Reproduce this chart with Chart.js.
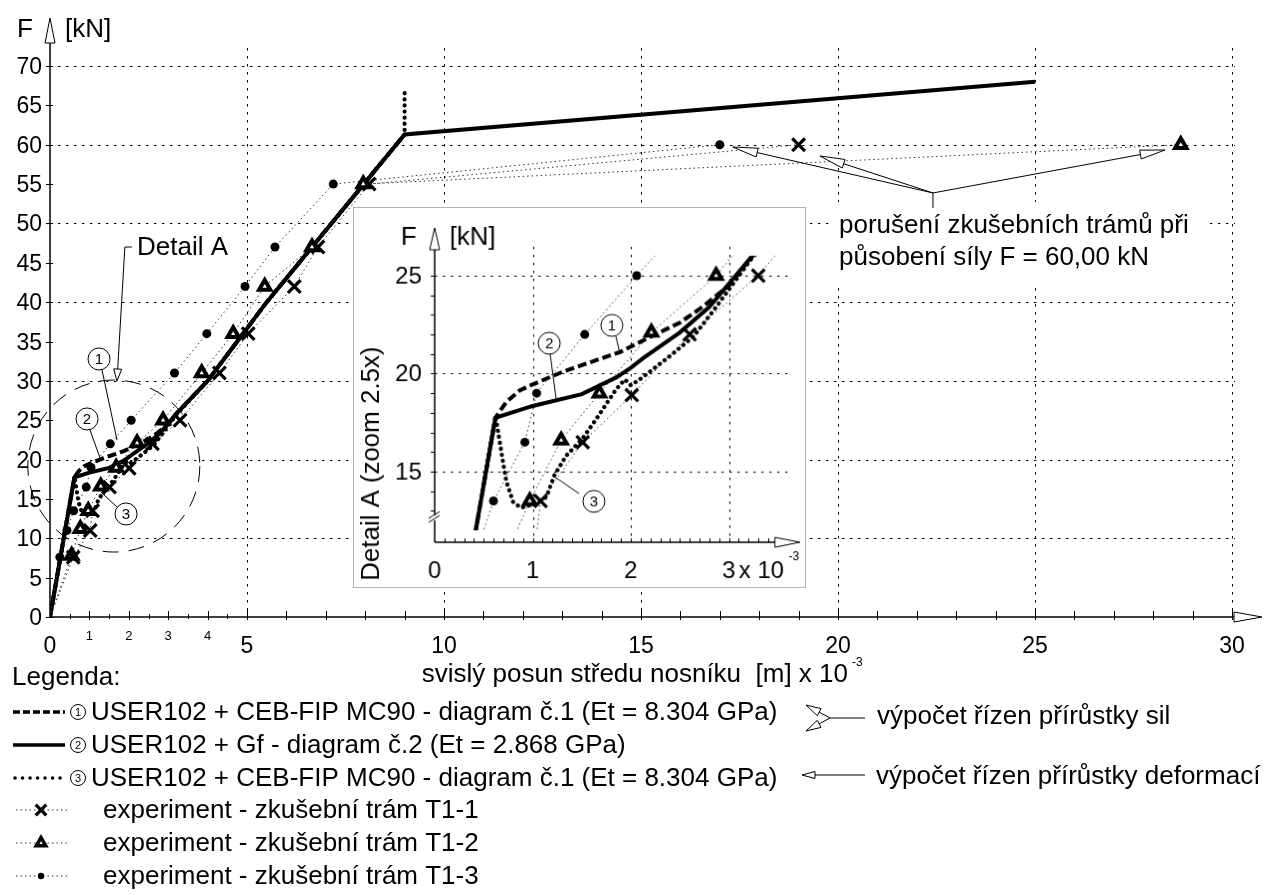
<!DOCTYPE html>
<html lang="cs">
<head>
<meta charset="utf-8">
<title>F - svislý posun</title>
<script src="https://cdn.jsdelivr.net/npm/chart.js@4.4.1/dist/chart.umd.min.js"></script>
<style>
  body { margin: 0; background: #fff; }
  #wrap { position: relative; width: 1265px; height: 895px; overflow: hidden; }
  #main { position: absolute; left: 0; top: 0; }
  #detail { position: absolute; left: 353px; top: 207px; background: #fff; border: 1px solid #b4b4b4; }
</style>
</head>
<body>
<div id="wrap">
  <canvas id="main" width="1265" height="895"></canvas>
  <canvas id="detail" width="453" height="381"></canvas>
</div>
<script>
// x = svislý posun středu nosníku [m] x 10^-3, y = F [kN]

// model 1 - dashed (CEB-FIP, řízeno silami)
var m1X = [0, 0.62, 0.73, 0.87, 1.0, 1.31, 1.6, 1.89, 2.21, 2.5, 2.73, 3.0, 3.22, 4.0, 5.5, 9.0];
var m1Y = [0, 17.75, 18.55, 19.15, 19.45, 20.1, 20.6, 21.1, 21.9, 22.6, 23.4, 24.5, 25.9, 30.0, 40.0, 61.3];
// model 2 - solid (Gf)
var m2X = [0, 0.62, 1.0, 1.5, 1.85, 2.0, 2.13, 2.5, 2.8, 3.22, 4.0, 5.5, 9.0, 25.0];
var m2Y = [0, 17.75, 18.35, 18.95, 19.8, 20.3, 20.8, 22.1, 23.4, 25.9, 30.0, 40.0, 61.3, 68.0];
// model 3 - dotted (CEB-FIP, řízeno deformacemi)
var m3X = [0, 0.62, 0.68, 0.73, 0.80, 0.88, 0.99, 1.14, 1.22, 1.34, 1.51, 1.65, 1.85, 1.94, 2.0, 2.09, 2.4, 2.64, 2.87, 3.22, 4.0, 5.5, 9.0, 9.0];
var m3Y = [0, 17.85, 16.0, 14.5, 13.45, 13.15, 13.3, 13.7, 14.8, 15.8, 16.7, 17.7, 19.2, 19.7, 19.4, 19.7, 20.9, 21.9, 23.4, 25.8, 30.0, 40.0, 61.3, 67.2];

// experiments
var t1X = [0, 0.59, 1.02, 1.08, 1.51, 2.01, 2.6, 3.3, 4.3, 5.03, 6.2, 6.8, 8.1, 19.0];
var t1Y = [0, 7.6, 11.0, 13.5, 16.5, 18.9, 22.0, 25.0, 31.0, 36.0, 42.0, 47.0, 55.0, 60.0];
var t2X = [0, 0.55, 0.77, 0.97, 1.29, 1.68, 2.21, 2.87, 3.85, 4.65, 5.45, 6.65, 7.95, 28.7];
var t2Y = [0, 7.8, 11.2, 13.5, 16.6, 19.0, 22.1, 25.0, 31.0, 36.0, 42.0, 47.0, 55.0, 60.0];
var t3X = [0, 0.25, 0.43, 0.6, 0.92, 1.04, 1.53, 2.06, 3.16, 3.98, 4.95, 5.71, 7.19, 17.0];
var t3Y = [0, 7.6, 11.0, 13.5, 16.5, 19.0, 22.0, 25.0, 31.0, 36.0, 42.0, 47.0, 55.0, 60.0];

// axes
var xTicks = [0, 5, 10, 15, 20, 25, 30];
var xSmallTicks = [1, 2, 3, 4];
var yTicks = [0, 5, 10, 15, 20, 25, 30, 35, 40, 45, 50, 55, 60, 65, 70];
var yGrid = [10, 20, 30, 40, 50, 60, 70];
var dXTicks = [0, 1, 2, 3];
var dYTicks = [15, 20, 25];

var legendTexts = [
  'USER102 + CEB-FIP MC90 - diagram č.1 (Et = 8.304 GPa)',
  'USER102 + Gf - diagram č.2 (Et = 2.868 GPa)',
  'USER102 + CEB-FIP MC90 - diagram č.1 (Et = 8.304 GPa)',
  'experiment - zkušební trám T1-1',
  'experiment - zkušební trám T1-2',
  'experiment - zkušební trám T1-3'
];

var FONT = '"Liberation Sans", Arial, sans-serif';
var TS = 26;

function pts(xs, ys) {
  return xs.map(function (x, i) { return { x: x, y: ys[i] }; });
}

function expSet(xs, ys, style, r, bw, bg) {
  return {
    data: pts(xs, ys), showLine: true,
    borderColor: '#333', borderWidth: 1, borderDash: [1.5, 3],
    pointStyle: style,
    pointRadius: function (c) { return c.dataIndex === 0 ? 0 : r; },
    pointBorderWidth: bw, pointBorderColor: '#000', pointBackgroundColor: bg
  };
}

function makeSets() {
  return [
    expSet(t1X, t1Y, 'crossRot', 9, 3.2, '#000'),
    expSet(t2X, t2Y, 'triangle', 6.5, 4, '#fff'),
    expSet(t3X, t3Y, 'circle', 4.5, 0, '#000'),
    { data: pts(m3X, m3Y), showLine: true, borderColor: '#000', borderWidth: 4.2, borderDash: [0.1, 6],
      borderCapStyle: 'round', borderJoinStyle: 'round', pointRadius: 0 },
    { data: pts(m1X, m1Y), showLine: true, borderColor: '#000', borderWidth: 4, borderDash: [9, 4], pointRadius: 0 },
    { data: pts(m2X, m2Y), showLine: true, borderColor: '#000', borderWidth: 4, pointRadius: 0 }
  ];
}

// drawing helpers
function txt(ctx, s, x, y, size, align, base) {
  ctx.font = size + 'px ' + FONT;
  ctx.textAlign = align || 'left';
  ctx.textBaseline = base || 'alphabetic';
  ctx.fillStyle = '#000';
  ctx.fillText(s, x, y);
}
function seg(ctx, x1, y1, x2, y2) {
  ctx.beginPath(); ctx.moveTo(x1, y1); ctx.lineTo(x2, y2); ctx.stroke();
}
function arrowTo(ctx, x1, y1, tx, ty, len, half) {
  var a = Math.atan2(ty - y1, tx - x1);
  var bx = tx - len * Math.cos(a), by = ty - len * Math.sin(a);
  var nx = -Math.sin(a) * half, ny = Math.cos(a) * half;
  ctx.setLineDash([]);
  ctx.lineWidth = 1; ctx.strokeStyle = '#000';
  seg(ctx, x1, y1, bx, by);
  ctx.beginPath();
  ctx.moveTo(tx, ty); ctx.lineTo(bx + nx, by + ny); ctx.lineTo(bx - nx, by - ny); ctx.closePath();
  ctx.fillStyle = '#fff'; ctx.fill(); ctx.stroke();
}
function circled(ctx, n, cx, cy, r, size) {
  ctx.setLineDash([]);
  ctx.beginPath(); ctx.arc(cx, cy, r, 0, Math.PI * 2);
  ctx.fillStyle = '#fff'; ctx.fill();
  ctx.lineWidth = 1; ctx.strokeStyle = '#000'; ctx.stroke();
  txt(ctx, String(n), cx, cy + 1, size, 'center', 'middle');
}
function marker(ctx, style, r, bw, bg, x, y) {
  ctx.save();
  ctx.setLineDash([]);
  ctx.lineWidth = bw; ctx.strokeStyle = '#000'; ctx.fillStyle = bg;
  Chart.helpers.drawPoint(ctx, { pointStyle: style, radius: r, borderWidth: bw, rotation: 0 }, x, y);
  ctx.restore();
}

var mainDecor = {
  id: 'mainDecor',
  beforeDatasetsDraw: function (chart) {
    var ctx = chart.ctx, a = chart.chartArea, sx = chart.scales.x, sy = chart.scales.y;
    ctx.save();
    ctx.strokeStyle = '#000'; ctx.lineWidth = 1; ctx.setLineDash([2.5, 5.5]);
    xTicks.slice(1).forEach(function (v) {
      var p = Math.round(sx.getPixelForValue(v)) + 0.5;
      seg(ctx, p, a.top - 18, p, a.bottom);
    });
    yGrid.forEach(function (v) {
      var p = Math.round(sy.getPixelForValue(v)) + 0.5;
      seg(ctx, a.left, p, a.right + 3, p);
    });
    // white box behind the failure note
    ctx.fillStyle = '#fff';
    ctx.fillRect(830, 202, 375, 83);
    ctx.restore();
  },
  afterDatasetsDraw: function (chart) {
    var ctx = chart.ctx, a = chart.chartArea, sx = chart.scales.x, sy = chart.scales.y;
    function P(x, y) { return [sx.getPixelForValue(x), sy.getPixelForValue(y)]; }
    ctx.save();
    ctx.strokeStyle = '#000'; ctx.setLineDash([]);

    // axes
    ctx.lineWidth = 1.5;
    seg(ctx, a.left, a.bottom, a.left, 43);
    seg(ctx, a.left, a.bottom, a.right + 2, a.bottom);
    arrowTo(ctx, a.left, 43, a.left, 18, 25, 5);
    arrowTo(ctx, a.right + 2, a.bottom, a.right + 30, a.bottom, 28, 5);

    // ticks
    ctx.lineWidth = 1;
    yTicks.forEach(function (v) {
      var p = Math.round(sy.getPixelForValue(v)) + 0.5;
      seg(ctx, a.left - 4, p, a.left + 3, p);
      txt(ctx, String(v), a.left - 8, p + 1, 23, 'right', 'middle');
    });
    for (var i = 1; i <= 30; i++) {
      var px = Math.round(sx.getPixelForValue(i)) + 0.5;
      seg(ctx, px, a.bottom - (i % 5 === 0 ? 8 : 6), px, a.bottom + 3);
    }
    for (var h = 0.5; h < 5; h += 1) {
      var hx = Math.round(sx.getPixelForValue(h)) + 0.5;
      seg(ctx, hx, a.bottom - 3, hx, a.bottom + 2);
    }
    xTicks.forEach(function (v) {
      txt(ctx, String(v), sx.getPixelForValue(v), a.bottom + 36, 23, 'center');
    });
    xSmallTicks.forEach(function (v) {
      txt(ctx, String(v), sx.getPixelForValue(v), a.bottom + 23, 13, 'center');
    });

    // axis titles
    txt(ctx, 'F', 17, 37, TS);
    txt(ctx, '[kN]', 65, 37, TS);
    txt(ctx, 'svislý posun středu nosníku  [m] x 10', 848, 682, TS, 'right');
    txt(ctx, '-3', 852, 666, 12);

    // Detail A circle
    var c = P(1.62, 19.18);
    ctx.lineWidth = 1; ctx.setLineDash([16, 10]);
    ctx.beginPath(); ctx.arc(c[0], c[1], 86, 0, Math.PI * 2); ctx.stroke();
    ctx.setLineDash([]);
    txt(ctx, 'Detail A', 137, 255, TS);
    var d0 = P(2.08, 47.0), d1 = P(1.9, 47.0), d2 = P(1.7, 29.98);
    seg(ctx, d0[0], d0[1], d1[0], d1[1]);
    arrowTo(ctx, d1[0], d1[1], d2[0], d2[1], 12, 4);

    // circled curve numbers
    var l1 = P(1.32, 31.38), l1e = P(1.70, 22.49);
    seg(ctx, l1[0], l1[1], l1e[0], l1e[1]);
    var l2 = P(1.015, 23.76), l2e = P(1.27, 20.2);
    seg(ctx, l2[0], l2[1], l2e[0], l2e[1]);
    var l3 = P(1.70, 13.98), l3e = P(1.29, 15.88);
    seg(ctx, l3[0], l3[1], l3e[0], l3e[1]);
    var c1 = P(1.244, 32.78), c2 = P(0.94, 25.16), c3 = P(1.93, 13.09);
    circled(ctx, 1, c1[0], c1[1], 11, 15);
    circled(ctx, 2, c2[0], c2[1], 11, 15);
    circled(ctx, 3, c3[0], c3[1], 11, 15);

    // failure note
    var b0 = P(22.41, 51.96), b1 = P(22.41, 53.87);
    seg(ctx, b0[0], b0[1], b1[0], b1[1]);
    [[17.33, 59.71], [19.54, 58.57], [28.3, 59.33]].forEach(function (t) {
      var q = P(t[0], t[1]);
      arrowTo(ctx, b1[0], b1[1], q[0], q[1], 25, 4.5);
    });
    txt(ctx, 'porušení zkušebních trámů při', 839, 233, TS);
    txt(ctx, 'působení síly F = 60,00 kN', 839, 265, TS);
    ctx.restore();
  },
  afterDraw: function (chart) {
    var ctx = chart.ctx;
    ctx.save();
    txt(ctx, 'Legenda:', 12, 685, TS);
    var base = [720, 753, 786, 818, 851, 884];
    // model lines
    ctx.strokeStyle = '#000';
    ctx.lineWidth = 3.5; ctx.setLineDash([7, 3]); ctx.lineCap = 'butt';
    seg(ctx, 13, base[0] - 8, 65, base[0] - 8);
    ctx.setLineDash([]);
    seg(ctx, 13, base[1] - 8, 65, base[1] - 8);
    ctx.lineCap = 'round'; ctx.setLineDash([0.1, 7.4]);
    seg(ctx, 15, base[2] - 8, 65, base[2] - 8);
    ctx.lineCap = 'butt';
    for (var i = 0; i < 3; i++) {
      circled(ctx, i + 1, 78, base[i] - 8, 7.5, 11);
      txt(ctx, legendTexts[i], 91, base[i], TS);
    }
    // experiments
    var mk = [['crossRot', 7.5, 3.2, '#000'], ['triangle', 5.5, 3.5, '#fff'], ['circle', 3.2, 0, '#000']];
    for (var j = 0; j < 3; j++) {
      var yy = base[3 + j] - 8;
      ctx.lineWidth = 1; ctx.strokeStyle = '#333'; ctx.setLineDash([1.5, 3]);
      seg(ctx, 16, yy, 70, yy);
      marker(ctx, mk[j][0], mk[j][1], mk[j][2], mk[j][3], 41, yy);
      txt(ctx, legendTexts[3 + j], 103, base[3 + j], TS);
    }
    // calculation control notes
    ctx.setLineDash([]); ctx.strokeStyle = '#000'; ctx.lineWidth = 1;
    seg(ctx, 865, 718, 830, 718);
    arrowTo(ctx, 830, 718, 806, 705, 15, 4);
    arrowTo(ctx, 830, 718, 806, 731, 15, 4);
    txt(ctx, 'výpočet řízen přírůstky sil', 877, 724, TS);
    arrowTo(ctx, 865, 775, 802, 775, 13, 3.5);
    txt(ctx, 'výpočet řízen přírůstky deformací', 876, 784, TS);
    ctx.restore();
  }
};

var detailDecor = {
  id: 'detailDecor',
  beforeDatasetsDraw: function (chart) {
    var ctx = chart.ctx, a = chart.chartArea, sx = chart.scales.x, sy = chart.scales.y;
    var axisY = a.bottom + 12;
    ctx.save();
    ctx.strokeStyle = '#000'; ctx.lineWidth = 1; ctx.setLineDash([2.5, 5.5]);
    dXTicks.slice(1).forEach(function (v) {
      var p = Math.round(sx.getPixelForValue(v)) + 0.5;
      seg(ctx, p, 39, p, axisY);
    });
    dYTicks.forEach(function (v) {
      var p = Math.round(sy.getPixelForValue(v)) + 0.5;
      seg(ctx, a.left, p, a.right + 12, p);
    });
    ctx.restore();
  },
  afterDatasetsDraw: function (chart) {
    var ctx = chart.ctx, a = chart.chartArea, sx = chart.scales.x, sy = chart.scales.y;
    function P(x, y) { return [sx.getPixelForValue(x), sy.getPixelForValue(y)]; }
    var axisY = a.bottom + 12;
    ctx.save();
    ctx.strokeStyle = '#000'; ctx.setLineDash([]);
    ctx.lineWidth = 1.5;
    seg(ctx, a.left, axisY, a.left, 42);
    seg(ctx, a.left, axisY, a.right - 3, axisY);
    arrowTo(ctx, a.left, 42, a.left, 20, 22, 5);
    arrowTo(ctx, a.right - 3, axisY, a.right + 22, axisY, 25, 5);
    // axis break
    ctx.fillStyle = '#fff';
    ctx.fillRect(a.left - 3, axisY - 27, 6, 5);
    ctx.lineWidth = 1;
    seg(ctx, a.left - 6, axisY - 20, a.left + 5, axisY - 27);
    seg(ctx, a.left - 6, axisY - 24, a.left + 5, axisY - 31);
    // ticks
    for (var v = 13; v <= 25; v++) {
      var py = Math.round(sy.getPixelForValue(v)) + 0.5;
      seg(ctx, a.left - 4, py, a.left, py);
    }
    for (var k = 1; k <= 34; k++) {
      var px = Math.round(sx.getPixelForValue(k / 10)) + 0.5;
      seg(ctx, px, axisY - 4, px, axisY);
    }
    dYTicks.forEach(function (t) {
      txt(ctx, String(t), a.left - 13, sy.getPixelForValue(t) + 1, 24, 'right', 'middle');
    });
    dXTicks.forEach(function (t) {
      txt(ctx, String(t), sx.getPixelForValue(t), axisY + 36, 24, 'center');
    });
    txt(ctx, 'x 10', sx.getPixelForValue(3) + 10, axisY + 36, 24);
    txt(ctx, '-3', sx.getPixelForValue(3) + 60, axisY + 18, 12);
    txt(ctx, 'F', 55, 37, TS, 'center');
    txt(ctx, '[kN]', 96, 37, TS);
    ctx.save();
    ctx.translate(18, 257); ctx.rotate(-Math.PI / 2);
    txt(ctx, 'Detail A (zoom 2.5x)', 0, 0, TS, 'center', 'middle');
    ctx.restore();
    // circled curve numbers
    var l1 = P(1.848, 21.9), l1e = P(1.888, 21.04);
    seg(ctx, l1[0], l1[1], l1e[0], l1e[1]);
    var l2 = P(1.178, 20.99), l2e = P(1.239, 18.71);
    seg(ctx, l2[0], l2[1], l2e[0], l2e[1]);
    var l3 = P(1.472, 13.88), l3e = P(1.218, 14.75);
    seg(ctx, l3[0], l3[1], l3e[0], l3e[1]);
    var c1 = P(1.807, 22.46), c2 = P(1.168, 21.55), c3 = P(1.624, 13.48);
    circled(ctx, 1, c1[0], c1[1], 11, 15);
    circled(ctx, 2, c2[0], c2[1], 11, 15);
    circled(ctx, 3, c3[0], c3[1], 11, 15);
    ctx.restore();
  }
};

new Chart(document.getElementById('main'), {
  type: 'scatter',
  data: { datasets: makeSets() },
  options: {
    responsive: false, animation: false,
    layout: { padding: { left: 50, right: 33, top: 66, bottom: 278 } },
    plugins: { legend: { display: false }, tooltip: { enabled: false } },
    scales: {
      x: { type: 'linear', min: 0, max: 30, display: false },
      y: { type: 'linear', min: 0, max: 70, display: false }
    }
  },
  plugins: [mainDecor]
});

new Chart(document.getElementById('detail'), {
  type: 'scatter',
  data: { datasets: makeSets() },
  options: {
    responsive: false, animation: false,
    layout: { padding: { left: 81, right: 27.25, top: 48.3, bottom: 57 } },
    plugins: { legend: { display: false }, tooltip: { enabled: false } },
    scales: {
      x: { type: 'linear', min: 0, max: 3.5, display: false },
      y: { type: 'linear', min: 12, max: 26, display: false }
    }
  },
  plugins: [detailDecor]
});
</script>
</body>
</html>
